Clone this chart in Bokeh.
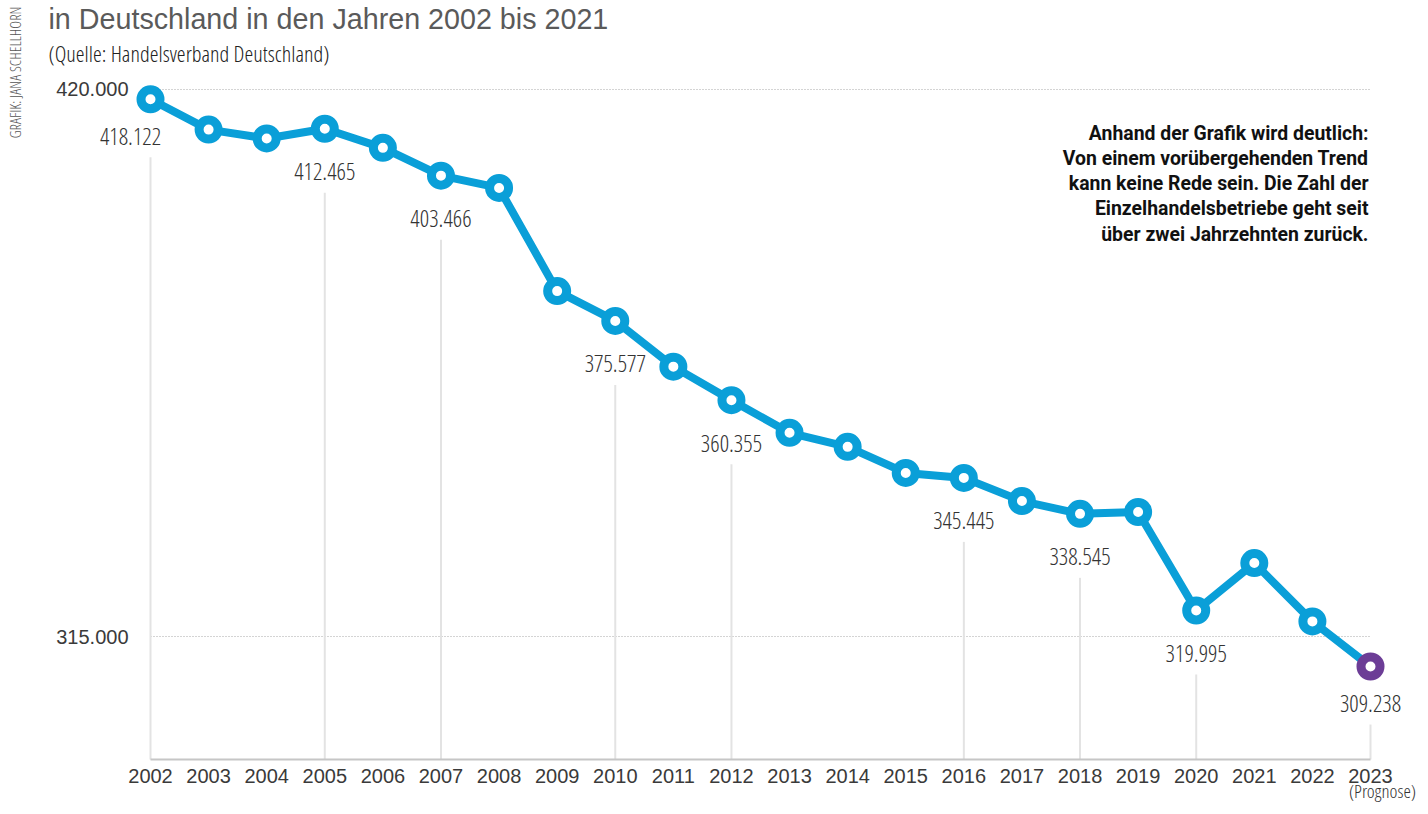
from bokeh.plotting import figure
from bokeh.models import Range1d, Label, ColumnDataSource
from bokeh.core.properties import value
from bokeh.embed import file_html
from bokeh.resources import INLINE

# ---------------- data ----------------
years = [2002, 2003, 2004, 2005, 2006, 2007, 2008, 2009, 2010, 2011, 2012,
         2013, 2014, 2015, 2016, 2017, 2018, 2019, 2020, 2021, 2022, 2023]
betriebe = [418122, 412300, 410600, 412465, 408800, 403466, 401100, 381300,
            375577, 366800, 360355, 354100, 351400, 346400, 345445, 341000,
            338545, 338900, 319995, 329100, 317900, 309238]
labeled_years = [2002, 2005, 2007, 2010, 2012, 2016, 2018, 2020, 2023]
y_ticks = [315000, 420000]

title_text = "in Deutschland in den Jahren 2002 bis 2021"
subtitle_text = "(Quelle: Handelsverband Deutschland)"
credit_text = "GRAFIK: JANA SCHELLHORN"
note_text = ("Anhand der Grafik wird deutlich:\n"
             "Von einem vorübergehenden Trend\n"
             "kann keine Rede sein. Die Zahl der\n"
             "Einzelhandelsbetriebe geht seit\n"
             "über zwei Jahrzehnten zurück.")
forecast_text = "(Prognose)"

# ---------------- style / layout ----------------
BLUE = "#0a9fd8"
PURPLE = "#6c3d96"
NARROW = "'Open Sans Condensed Light', 'DejaVu Sans Condensed', sans-serif"
W, H = 1420, 806
X0, X1 = 1999.4180, 2023.8607
Y0, Y1 = 282368, 437084
BASE = 291390
upp = (Y1 - Y0) / H   # data units per pixel
LABEL_OFF = 43
LINE_GAP = 21

p = figure(width=W, height=H, output_backend="svg", toolbar_location=None,
           x_range=Range1d(X0, X1), y_range=Range1d(Y0, Y1),
           x_axis_type=None, y_axis_type=None, min_border=0)
p.outline_line_color = None
p.grid.visible = False
p.background_fill_color = "white"
p.border_fill_color = "white"

# dotted gridlines spanning first to last year
p.segment(x0=[years[0]] * len(y_ticks), x1=[years[-1]] * len(y_ticks),
          y0=y_ticks, y1=y_ticks, line_color="#a8a8a8", line_width=1,
          line_dash="1 2")

# y tick labels
fmt = lambda v: f"{v:,}".replace(",", ".")
p.text(x=[years[0]] * len(y_ticks), y=y_ticks, text=[fmt(v) for v in y_ticks],
       x_offset=-22, text_align="right", text_baseline="middle",
       text_font=value("Liberation Sans"), text_font_size="20px",
       text_color="#3a3a3a")

# value labels: offsets (first label shifted left, end labels a bit closer)
lab_vals = [betriebe[years.index(yr)] for yr in labeled_years]
n = len(labeled_years)
x_offs = [-20 if i == 0 else 0 for i in range(n)]
y_offs = [LABEL_OFF - 6 if i in (0, n - 1) else LABEL_OFF for i in range(n)]

# vertical guide lines below labelled points
p.segment(x0=labeled_years, x1=labeled_years,
          y0=[v - (yo + LINE_GAP) * upp for v, yo in zip(lab_vals, y_offs)],
          y1=[BASE] * n, line_color="#e3e3e3", line_width=2)

# baseline + x tick labels
p.segment(x0=[years[0]], x1=[years[-1]], y0=[BASE], y1=[BASE],
          line_color="#c6c6c6", line_width=2)
p.text(x=years, y=[BASE] * len(years), text=[str(y) for y in years],
       y_offset=17, text_align="center", text_baseline="middle",
       text_font=value("Liberation Sans"), text_font_size="20px",
       text_color="#3a3a3a")

# main line
p.line(years, betriebe, line_color=BLUE, line_width=8, line_join="round")
p.scatter(years[:-1], betriebe[:-1], size=19, fill_color="white",
          line_color=BLUE, line_width=9)
p.scatter(years[-1:], betriebe[-1:], size=19, fill_color="white",
          line_color=PURPLE, line_width=9)

src = ColumnDataSource(dict(x=labeled_years, y=lab_vals,
                            t=[fmt(v) for v in lab_vals], xo=x_offs, yo=y_offs))
p.text(x="x", y="y", text="t", source=src, x_offset="xo", y_offset="yo",
       text_align="center", text_baseline="middle",
       text_font=value(NARROW), text_font_size="23.5px", text_color="#333333")

# forecast note under last year
p.text(x=[years[-1]], y=[BASE], text=[forecast_text], x_offset=12, y_offset=45,
       text_align="center", text_baseline="bottom",
       text_font=value(NARROW), text_font_size="19px", text_color="#333333")

# titles etc. (screen units: origin at bottom-left of the canvas)
p.add_layout(Label(x=48, y=H - 18, x_units="screen", y_units="screen",
                   text=title_text, text_font="Liberation Sans",
                   text_font_size="28.7px", text_color="#5a5a5a",
                   text_baseline="middle"))
p.add_layout(Label(x=48, y=H - 53, x_units="screen", y_units="screen",
                   text=subtitle_text, text_font=NARROW,
                   text_font_size="22.4px", text_color="#222222",
                   text_baseline="middle"))
p.add_layout(Label(x=14, y=H - 6, x_units="screen", y_units="screen",
                   text=credit_text, text_font=NARROW, angle=1.5708,
                   text_font_size="15px", text_color="#555555",
                   text_align="right", text_baseline="middle"))
p.add_layout(Label(x=1368, y=H - 121, x_units="screen", y_units="screen",
                   text=note_text, text_font="Roboto", text_font_style="bold",
                   text_font_size="19.4px", text_color="#111111",
                   text_align="right", text_baseline="top",
                   text_line_height=1.1))

open("out.html", "w").write(file_html(p, INLINE))
